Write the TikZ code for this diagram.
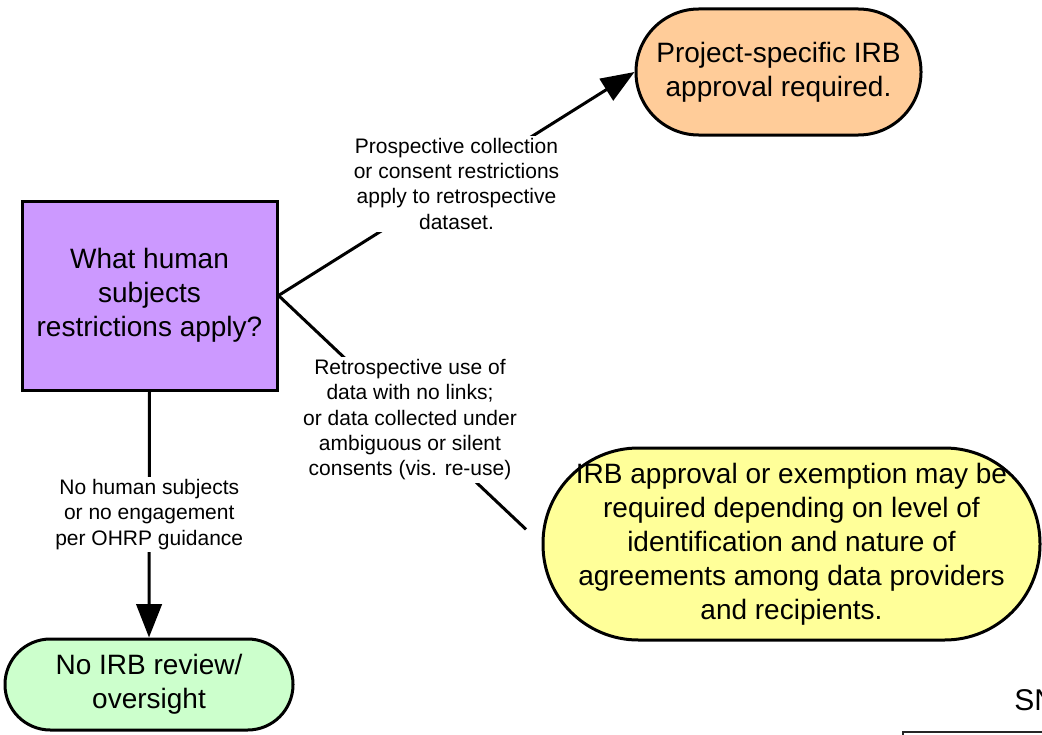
\documentclass[tikz,border=0pt]{standalone}
\usepackage{fontspec}
\setmainfont{Liberation Sans}
\usetikzlibrary{arrows.meta}
\definecolor{cpurple}{HTML}{CC99FF}
\definecolor{corange}{HTML}{FFCC99}
\definecolor{cyellow}{HTML}{FFFF99}
\definecolor{cgreen}{HTML}{CCFFCC}
\tikzset{
  box/.style={draw=black, line width=2.25pt, align=center, inner sep=0pt,
    font=\fontsize{21}{25.5}\selectfont},
  lbl/.style={fill=white, align=center, inner sep=2pt,
    font=\fontsize{15.75}{18.9}\selectfont},
  conn/.style={line width=2.25pt},
  arr/.style={conn, -{Triangle[length=25pt, width=19pt]}}
}
\begin{document}
\begin{tikzpicture}[x=0.75pt, y=-0.75pt]
\useasboundingbox (0,0) rectangle (1042,735);
\clip (0,0) rectangle (1042,735);
\node[box, fill=cpurple, minimum width=191.25pt, minimum height=141.75pt] (q) at (149.5,295.5)
  {What human\\subjects\\restrictions apply?};
\node[box, fill=corange, minimum width=213.75pt, minimum height=94.5pt, rounded corners=47pt] (irb) at (778.5,72)
  {Project-specific IRB\\approval required.};
\node[box, fill=cyellow, minimum width=372.75pt, minimum height=144pt, rounded corners=71.5pt] (may) at (791.5,544)
  {IRB approval or exemption may be\\required depending on level of\\identification and nature of\\agreements among data providers\\and recipients.};
\node[box, fill=cgreen, minimum width=216pt, minimum height=68.25pt, rounded corners=34pt] (no) at (149,684.5)
  {No IRB review/\\oversight};
\draw[arr] (q.east) -- node[lbl] {Prospective collection\\or consent restrictions\\apply to retrospective\\dataset.} (irb.west);
\draw[conn, shorten >=16pt] (q.east) -- node[lbl] {Retrospective use of\\data with no links;\\or data collected under\\ambiguous or silent\\consents (vis. re-use)} (may.west);
\draw[arr] (q.south) -- node[lbl] {No human subjects\\or no engagement\\per OHRP guidance} (no.north);
\node[anchor=base west, inner sep=0pt, font=\fontsize{22.5}{27}\selectfont] (sn) at (1014,710) {SN};
\draw[line width=1pt, draw=black!85] (903,732) rectangle (1200,820);
\end{tikzpicture}
\end{document}
